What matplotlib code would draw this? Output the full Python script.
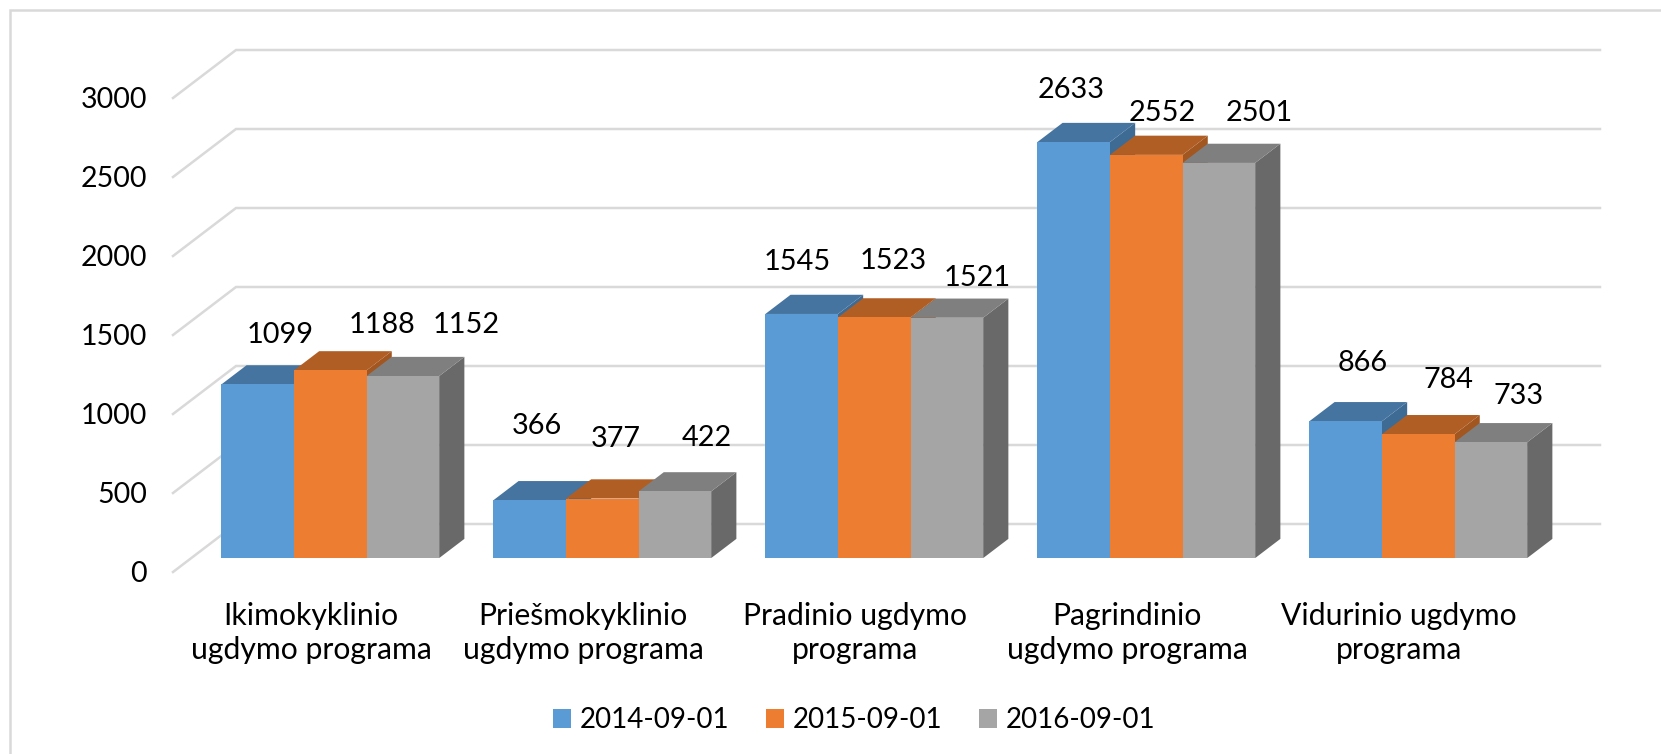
import matplotlib
matplotlib.use("Agg")
import matplotlib.pyplot as plt
from matplotlib.lines import Line2D
from matplotlib.patches import Polygon, Patch

plt.rcParams['font.family'] = ['Lato', 'DejaVu Sans']

categories = ["Ikimokyklinio\nugdymo programa", "Priešmokyklinio\nugdymo programa",
              "Pradinio ugdymo\nprograma", "Pagrindinio\nugdymo programa",
              "Vidurinio ugdymo\nprograma"]
series_names = ["2014-09-01", "2015-09-01", "2016-09-01"]
values_2014 = [1099, 366, 1545, 2633, 866]
values_2015 = [1188, 377, 1523, 2552, 784]
values_2016 = [1152, 422, 1521, 2501, 733]
y_ticks = [0, 500, 1000, 1500, 2000, 2500, 3000]

# label offsets from each bar's front-top centre, in pixels (dx, dy up)
label_offsets = [
    [(22, 49), (7, 74), (-4, 52), (-3, 52), (17, 58)],
    [(52, 45), (13, 60), (19, 56), (16, 42), (30, 54)],
    [(63, 51), (32, 53), (30, 40), (40, 50), (28, 46)],
]

W, H = 1661, 754
fig = plt.figure(figsize=(W / 100, H / 100), dpi=100)
L, R, T, B = 175, 1535, 98, 572  # front plane in pixels
ax = fig.add_axes([L / W, 1 - B / H, (R - L) / W, (B - T) / H])
ax.set_xlim(-0.5, 4.5)
ax.set_ylim(0, 3000)
for s in ax.spines.values():
    s.set_visible(False)

PX = (R - L) / 5  # pixels per category
# oblique projection: full wall depth in data units
DX = 63 / PX
DY = 48 / ((B - T) / 3000)


def proj(x, y, d):
    return (x + d * DX, y + d * DY)


GRID = "#D9D9D9"
wall_x = -0.5 - 2 / PX
for t in y_ticks:
    pts = [proj(wall_x, t, 0), proj(wall_x, t, 1), proj(4.5 + 2 / PX, t, 1)]
    ax.plot(*zip(*pts), color=GRID, lw=1.8, clip_on=False, zorder=1,
            solid_joinstyle="miter")

BW = 72.6 / PX
D0, D1 = 0.29, 0.69
SHIFT = 1.0 / PX
front_cols = ["#5B9BD5", "#ED7D31", "#A5A5A5"]
top_cols = ["#44749F", "#B15E24", "#7F7F7F"]
side_cols = ["#3E6B94", "#A25620", "#696969"]
all_vals = [values_2014, values_2015, values_2016]

z = 3
for g in range(len(categories)):
    for i, vals in enumerate(all_vals):
        v = vals[g]
        x0 = g - 1.5 * BW + i * BW + SHIFT
        x1 = x0 + BW
        side = [proj(x1, 0, D0), proj(x1, 0, D1), proj(x1, v, D1), proj(x1, v, D0)]
        top = [proj(x0, v, D0), proj(x1, v, D0), proj(x1, v, D1), proj(x0, v, D1)]
        front = [proj(x0, 0, D0), proj(x1, 0, D0), proj(x1, v, D0), proj(x0, v, D0)]
        for poly, col in ((side, side_cols[i]), (top, top_cols[i]), (front, front_cols[i])):
            ax.add_patch(Polygon(poly, closed=True, fc=col, ec="none", zorder=z, clip_on=False))
            z += 1
        ax.annotate(str(v), xy=proj((x0 + x1) / 2, v, D0), xycoords="data",
                    xytext=label_offsets[i][g], textcoords="offset pixels",
                    ha="center", va="center", fontsize=20.8, color="black",
                    zorder=200, annotation_clip=False)

ax.set_yticks(y_ticks)
ax.set_xticks(range(len(categories)))
ax.set_xticklabels(categories, fontsize=21.7, linespacing=1.27)
ax.tick_params(axis="y", length=0, pad=20, labelsize=20.5)
ax.tick_params(axis="x", length=0, pad=21.5)

handles = [Patch(fc=c, ec="none", label=n) for c, n in zip(front_cols, series_names)]
fig.legend(handles=handles, loc="center", bbox_to_anchor=(854 / W, 1 - 720 / H),
           ncol=3, frameon=False, fontsize=20, handlelength=0.65, handleheight=0.65,
           handletextpad=0.33, columnspacing=1.3)

fig.add_artist(Line2D([9.5 / W, 9.5 / W, 1], [0, 1 - 10 / H, 1 - 10 / H],
                      transform=fig.transFigure, color=GRID, lw=1.8,
                      solid_joinstyle="miter"))
fig.savefig("out.png", dpi=100)
